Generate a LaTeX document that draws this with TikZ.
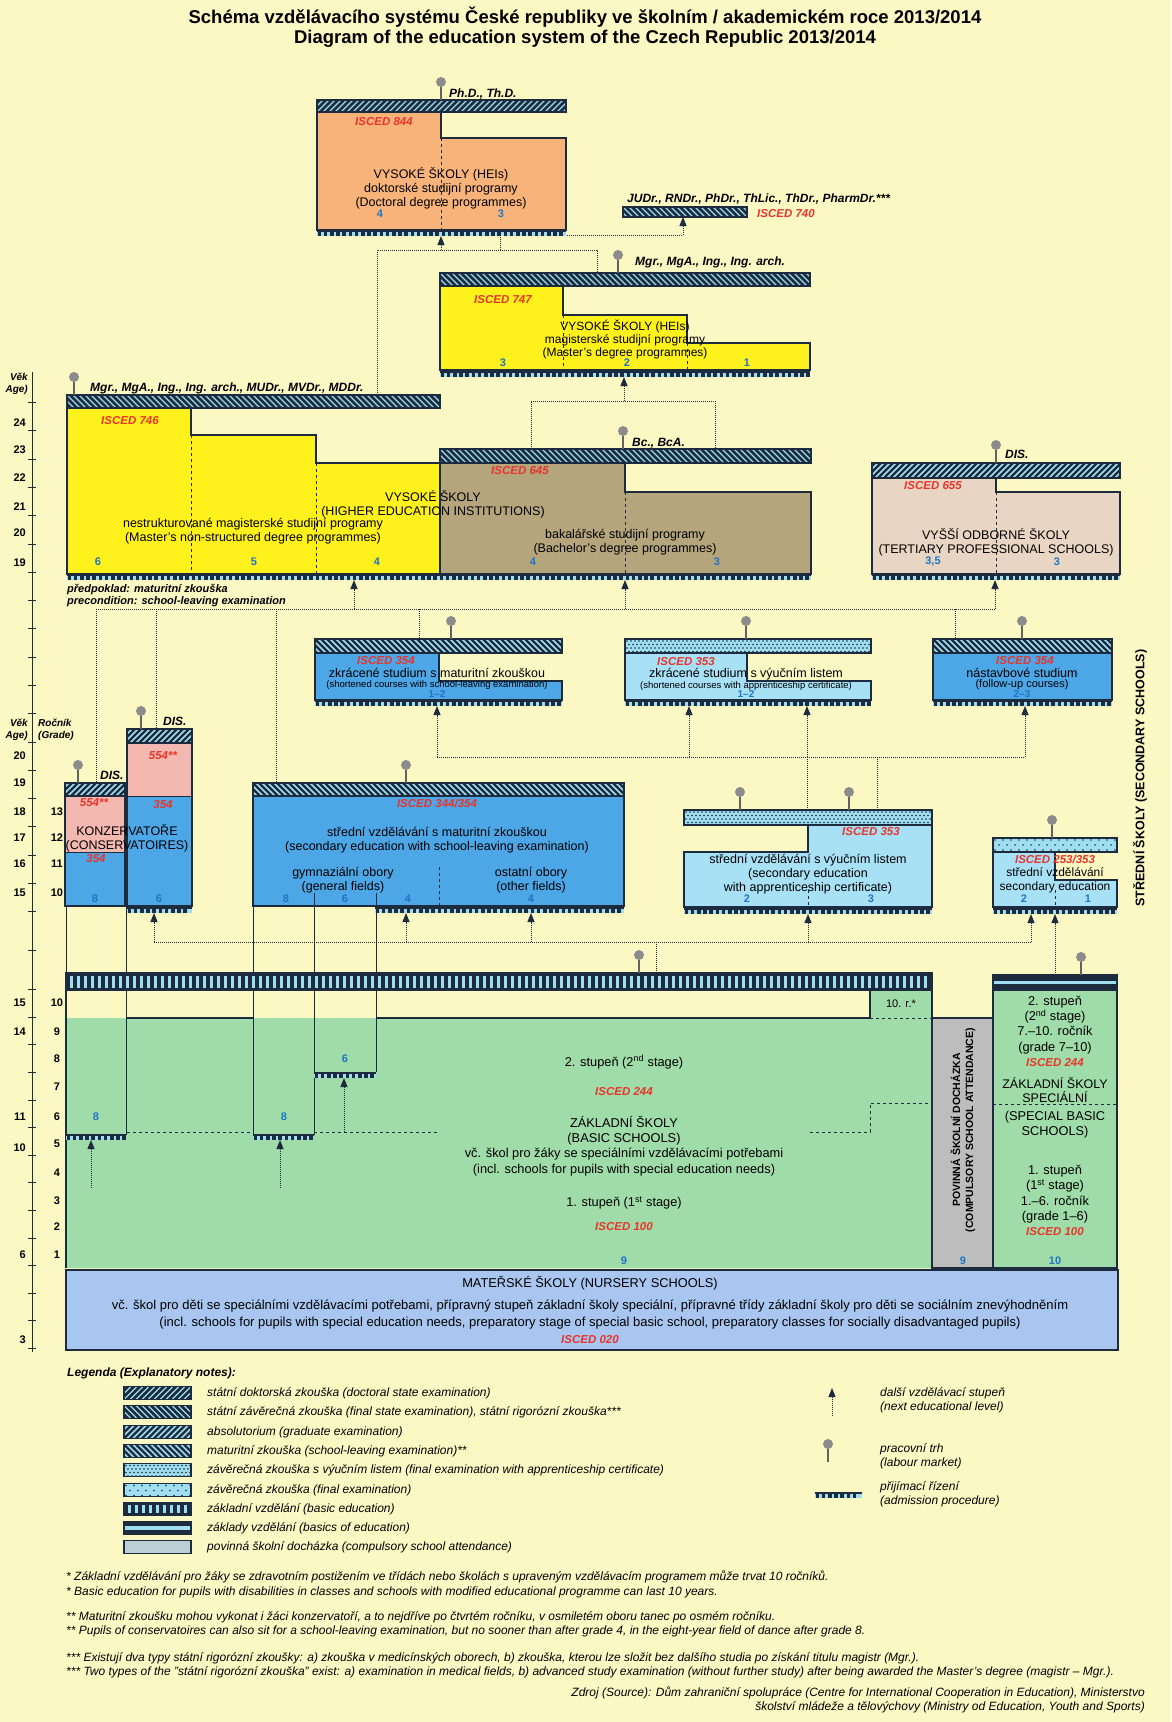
\documentclass[tikz,border=0pt]{standalone}
\usepackage{fontspec}
\setmainfont{Liberation Sans}
\usepackage{tikz}
\usetikzlibrary{arrows.meta,calc}
\definecolor{PaperYellow}{HTML}{FCF8C4}
\definecolor{BarNavy}{HTML}{1C2B3E}
\definecolor{HatchBlue}{HTML}{9FDDF0}
\definecolor{DoctorOrange}{HTML}{F8B37A}
\definecolor{MasterYellow}{HTML}{FFF21C}
\definecolor{BachelorKhaki}{HTML}{B4A57D}
\definecolor{TertiaryBeige}{HTML}{E9D5C3}
\definecolor{MaturaBlue}{HTML}{4DA6E6}
\definecolor{TradeBlue}{HTML}{A8E1F6}
\definecolor{ConservPink}{HTML}{F3B8B0}
\definecolor{BasicGreen}{HTML}{A0DCA9}
\definecolor{AttendGrey}{HTML}{BDBDBD}
\definecolor{LegendGrey}{HTML}{BCCFD7}
\definecolor{NurseryBlue}{HTML}{A8C6F0}
\definecolor{IscedRed}{HTML}{E8342B}
\definecolor{YearBlue}{HTML}{1F74C4}
\definecolor{PinGrey}{HTML}{8C8C8C}

\newcommand\fwdbar[7]{%
    \begin{scope}
        \clip (#4,#5) rectangle (#6,#7);
        \fill[#1] (#4,#5) rectangle (#6,#7);
        \pgfmathtruncatemacro\nn{(#6-#4)/6+1}
        \foreach \k in {-3,...,\nn}
            \draw[#2,line width=#3] ({#4+\k*6},#7) -- ++({#7-#5},{#5-#7});
    \end{scope}
    \draw[barframe] (#4,#5) rectangle (#6,#7);}
\newcommand\bckbar[7]{%
    \begin{scope}
        \clip (#4,#5) rectangle (#6,#7);
        \fill[#1] (#4,#5) rectangle (#6,#7);
        \pgfmathtruncatemacro\nn{(#6-#4)/6+1}
        \foreach \k in {-3,...,\nn}
            \draw[#2,line width=#3] ({#4+\k*6},#5) -- ++({#7-#5},{#7-#5});
    \end{scope}
    \draw[barframe] (#4,#5) rectangle (#6,#7);}
\newcommand\dotbar[8]{%
    \begin{scope}
        \clip (#5,#6) rectangle (#7,#8);
        \fill[#1] (#5,#6) rectangle (#7,#8);
        \pgfmathtruncatemacro\nx{(#7-#5)/#3}
        \pgfmathtruncatemacro\ny{(#8-#6)/#4}
        \foreach \i in {0,...,\nx}
            \foreach \j in {0,...,\ny}
                \fill[#2] ({#5+2+\i*#3+mod(\j,2)*#3/2},{#6+2+\j*#4}) circle (0.8);
    \end{scope}
    \draw[barframe] (#5,#6) rectangle (#7,#8);}
\newcommand\docbar[4]{\fwdbar{BarNavy}{HatchBlue}{1.2pt}{#1}{#2}{#3}{#4}}
\newcommand\statebar[4]{\bckbar{BarNavy}{HatchBlue}{1.2pt}{#1}{#2}{#3}{#4}}
\newcommand\absbar[4]{\fwdbar{HatchBlue}{BarNavy}{2.2pt}{#1}{#2}{#3}{#4}}
\newcommand\matbar[4]{\bckbar{HatchBlue}{BarNavy}{2.2pt}{#1}{#2}{#3}{#4}}
\newcommand\tradebar[4]{\dotbar{HatchBlue}{BarNavy}{4}{3.5}{#1}{#2}{#3}{#4}}
\newcommand\finalbar[4]{\dotbar{HatchBlue}{BarNavy}{8}{5}{#1}{#2}{#3}{#4}}
\newcommand\basicbar[4]{%
    \fill[BarNavy] (#1,#2) rectangle (#3,#4);
    \pgfmathtruncatemacro\nt{(#3-#1-6)/7}
    \foreach \k in {0,...,\nt}
        \fill[HatchBlue] ({#1+4+\k*7},{#2+2.5}) rectangle ++(2.6,{#4-#2-5});
    \draw[barframe] (#1,#2) rectangle (#3,#4);}
\newcommand\basicsbar[4]{%
    \fill[BarNavy] (#1,#2) rectangle (#3,#4);
    \fill[HatchBlue] (#1,{#2+0.38*(#4-#2)}) rectangle (#3,{#2+0.62*(#4-#2)});
    \draw[barframe] (#1,#2) rectangle (#3,#4);}
\newcommand\attendbar[4]{\filldraw[barframe,fill=LegendGrey] (#1,#2) rectangle (#3,#4);}
\newcommand\admit[3]{%
    \fill[HatchBlue] (#1,#3) rectangle (#2,{#3+6});
    \pgfmathtruncatemacro\nt{(#2-#1-4)/6.2}
    \foreach \k in {0,...,\nt}
        \fill[BarNavy] ({#1+0.5+\k*6.2},#3) rectangle ++(3.6,6);
    \fill[BarNavy] (#1,#3) rectangle (#2,{#3+1.8});}

\begin{document}
\begin{tikzpicture}[x=1pt,y=-1pt,
    box/.style={draw=BarNavy,line width=2pt},
    barframe/.style={draw=BarNavy,line width=1.4pt},
    divider/.style={draw=BarNavy,dashed,line width=0.7pt},
    track/.style={draw=BarNavy,line width=1pt},
    link/.style={draw=BarNavy,densely dotted,line width=1pt},
    nextlvl/.style={link,-{Triangle[length=9pt,width=7pt]}},
    pinhead/.style={circle,fill=PinGrey,inner sep=0pt,minimum size=10pt},
    pinstem/.style={draw=PinGrey!70!black,line width=1.3pt},
    txt/.style={inner sep=0pt,align=center,font=\fontsize{12.5}{14}\selectfont},
    smalltxt/.style={inner sep=0pt,align=center,font=\fontsize{9.5}{11}\selectfont},
    isced/.style={inner sep=0pt,text=IscedRed,font=\fontsize{11.5}{13}\selectfont\bfseries\itshape},
    yrs/.style={inner sep=0pt,text=YearBlue,font=\fontsize{11}{13}\selectfont\bfseries},
    degree/.style={inner sep=0pt,anchor=west,font=\fontsize{12}{14}\selectfont\bfseries\itshape},
    agetxt/.style={inner sep=0pt,font=\fontsize{11}{13}\selectfont\bfseries},
    basictxt/.style={inner sep=0pt,align=center,font=\fontsize{12.8}{15.3}\selectfont},
    legendtxt/.style={inner sep=0pt,anchor=west,font=\fontsize{12}{14}\selectfont\itshape},
    notetxt/.style={inner sep=0pt,anchor=west,font=\fontsize{12}{14}\selectfont\itshape},
    headline/.style={inner sep=0pt,font=\fontsize{18.5}{22}\selectfont\bfseries}]
    \useasboundingbox (0,0) rectangle (1171,1722);
    \fill[PaperYellow] (0,0) rectangle (1171,1722);

    \node[headline] (title) at (585,17) {Schéma vzdělávacího systému České republiky ve školním / akademickém roce 2013/2014};
    \node[headline] (title-en) at (585,39) {Diagram of the education system of the Czech Republic 2013/2014};

    \draw[track] (32,372) -- (32,1352);
    \foreach \y in {402,430,459,487,515,544,572,600,628,657,685,713,742,770,798,826,855,883,911,950,989,1017,1044,1072,1100,1127,1155,1182,1210,1238,1265,1293,1320,1348}
        \draw[track] (28,\y) -- (36,\y);
    \foreach \a/\y in {24/423,23/450,22/478,21/507,20/533,19/563,20/756,19/783,18/812,17/838,16/864,15/893,15/1003,14/1032,11/1117,10/1148,6/1255,3/1340}
        \node[agetxt,anchor=east] (age-\y) at (26,\y) {\a};
    \foreach \g/\y in {13/812,12/838,11/864,10/893,10/1003,9/1032,8/1059,7/1087,6/1117,5/1144,4/1173,3/1201,2/1227,1/1255}
        \node[agetxt] (grade-\y) at (57,\y) {\g};
    \foreach \n/\y in {up/377,low/723}
        \node[agetxt,font=\fontsize{10}{12}\selectfont\bfseries\itshape,anchor=east] (vek-\n) at (28,\y) {Věk};
    \foreach \n/\y in {up/390,low/736}
        \node[agetxt,font=\fontsize{10}{12}\selectfont\bfseries\itshape,anchor=east] (agehead-\n) at (28,\y) {Age)};
    \node[agetxt,font=\fontsize{10}{12}\selectfont\bfseries\itshape,anchor=west] (rocnik) at (38,723) {Ročník};
    \node[agetxt,font=\fontsize{10}{12}\selectfont\bfseries\itshape,anchor=west] (gradehead) at (38,736) {(Grade)};

    \coordinate (d746) at (377,395);
    \coordinate (d-turn) at (377,250);
    \coordinate (d-end) at (597,250);
    \coordinate (d747) at (597,273);
    \coordinate (ju-a) at (500,250);
    \coordinate (ju-b) at (500,235);
    \coordinate (ju-c) at (683,235);
    \draw[link] (d746) -- (d-turn) -- (d-end) -- (d747);
    \draw[link] (ju-a) -- (ju-b) -- (ju-c);
    \coordinate (bc-a) at (531,449);
    \coordinate (bc-b) at (531,401);
    \coordinate (bc-c) at (715,401);
    \coordinate (bc-d) at (715,449);
    \draw[link] (bc-a) -- (bc-b) -- (bc-c) -- (bc-d);
    \coordinate (pre-w) at (96,609);
    \coordinate (pre-e) at (995,609);
    \draw[link] (pre-w) -- (pre-e);
    \foreach \n/\x/\y in {ka/96/783,kb/156/729,sec/276/783,sm/419/639,fu/955/639}{
        \coordinate (pre-\n) at (\x,609);
        \coordinate (in-\n) at (\x,\y);
        \draw[link] (pre-\n) -- (in-\n);
    }
    \coordinate (mid-w) at (437,757);
    \coordinate (mid-e) at (1025,757);
    \draw[link] (mid-w) -- (mid-e);
    \foreach \n/\x in {va/807,vb/877}{
        \coordinate (mid-\n) at (\x,757);
        \coordinate (top-\n) at (\x,810);
        \draw[link] (mid-\n) -- (top-\n);
    }
    \coordinate (low-w) at (154,942);
    \coordinate (low-e) at (1031,942);
    \coordinate (low-zs) at (656,942);
    \coordinate (top-zs) at (656,973);
    \draw[link] (low-w) -- (low-e);
    \draw[link] (low-zs) -- (top-zs);

    \foreach \x/\a/\b in {66/906/990,126/906/1135,253/906/1135,314/893/1135,376/893/1072}
        \draw[track] (\x,\a) -- (\x,\b);

    \filldraw[box,fill=DoctorOrange] (317,112) -- (441,112) -- (441,138) -- (566,138) -- (566,230) -- (317,230) -- cycle;
    \draw[divider] (441,138) -- (441,230);
    \docbar{317}{100}{566}{112}
    \admit{317}{566}{230}
    \statebar{623}{207}{747}{217}

    \filldraw[box,fill=MasterYellow] (440,286) -- (563,286) -- (563,315) -- (687,315) -- (687,343) -- (810,343) -- (810,370) -- (440,370) -- cycle;
    \draw[divider] (563,315) -- (563,370);
    \draw[divider] (687,343) -- (687,370);
    \statebar{440}{273}{810}{286}
    \admit{440}{810}{371}

    \filldraw[box,fill=MasterYellow] (67,408) -- (191,408) -- (191,435) -- (316,435) -- (316,463) -- (440,463) -- (440,574) -- (67,574) -- cycle;
    \draw[divider] (191,435) -- (191,574);
    \draw[divider] (316,463) -- (316,574);
    \statebar{67}{395}{440}{408}
    \filldraw[box,fill=BachelorKhaki] (440,463) -- (625,463) -- (625,492) -- (811,492) -- (811,574) -- (440,574) -- cycle;
    \draw[divider] (625,492) -- (625,574);
    \statebar{440}{449}{811}{463}
    \admit{67}{811}{574}

    \filldraw[box,fill=TertiaryBeige] (872,478) -- (996,478) -- (996,492) -- (1120,492) -- (1120,574) -- (872,574) -- cycle;
    \draw[divider] (996,492) -- (996,574);
    \absbar{872}{463}{1120}{478}
    \admit{872}{1120}{574}

    \filldraw[box,fill=MaturaBlue] (315,653) -- (439,653) -- (439,681) -- (562,681) -- (562,700) -- (315,700) -- cycle;
    \matbar{315}{639}{562}{653}
    \admit{315}{562}{700}
    \filldraw[box,fill=TradeBlue] (625,653) -- (747,653) -- (747,681) -- (871,681) -- (871,700) -- (625,700) -- cycle;
    \tradebar{625}{639}{871}{653}
    \admit{625}{871}{700}
    \filldraw[box,fill=MaturaBlue] (933,653) rectangle (1112,700);
    \matbar{933}{639}{1112}{653}
    \admit{933}{1112}{700}

    \fill[ConservPink] (65,796) rectangle (125,852);
    \fill[MaturaBlue] (65,852) rectangle (125,906);
    \draw[box] (65,796) rectangle (125,906);
    \draw[track] (65,852) -- (125,852);
    \absbar{65}{783}{125}{796}
    \fill[ConservPink] (127,743) rectangle (192,796);
    \fill[MaturaBlue] (127,796) rectangle (192,906);
    \draw[box] (127,743) rectangle (192,906);
    \draw[track] (127,796) -- (192,796);
    \absbar{127}{729}{192}{743}
    \admit{127}{192}{907}

    \filldraw[box,fill=MaturaBlue] (253,796) rectangle (624,906);
    \draw[divider] (439,867) -- (439,906);
    \draw[track] (314,893) -- (314,906);
    \draw[track] (376,893) -- (376,906);
    \matbar{253}{783}{624}{796}
    \admit{375}{624}{907}

    \filldraw[box,fill=TradeBlue] (684,852) -- (808,852) -- (808,825) -- (932,825) -- (932,907) -- (684,907) -- cycle;
    \draw[divider] (808,890) -- (808,907);
    \tradebar{684}{810}{932}{825}
    \admit{684}{932}{908}
    \filldraw[box,fill=TradeBlue] (993,852) -- (1055,852) -- (1055,880) -- (1117,880) -- (1117,907) -- (993,907) -- cycle;
    \draw[divider] (1055,890) -- (1055,907);
    \finalbar{993}{838}{1117}{852}
    \admit{993}{1117}{908}

    \fill[BasicGreen] (66,1018) -- (870,1018) -- (870,990) -- (932,990) -- (932,1268) -- (66,1268) -- cycle;
    \draw[box] (127,1018) -- (253,1018);
    \draw[box] (376,1018) -- (870,1018) -- (870,990);
    \draw[box] (66,990) -- (66,1268);
    \draw[track] (126,1018) -- (126,1135);
    \draw[track] (253,1018) -- (253,1135);
    \draw[track] (314,1018) -- (314,1135);
    \draw[track] (376,1018) -- (376,1072);
    \draw[divider] (870,1018) -- (932,1018);
    \draw[divider] (127,1132) -- (253,1132);
    \draw[divider] (314,1132) -- (437,1132);
    \draw[divider] (810,1132) -- (870,1132) -- (870,1103) -- (932,1103);
    \filldraw[box,fill=AttendGrey] (932,1018) rectangle (993,1268);
    \draw[box] (932,990) -- (932,1018);
    \filldraw[box,fill=BasicGreen] (993,990) rectangle (1117,1268);
    \draw[divider] (993,1104) -- (1117,1104);
    \basicbar{66}{973}{932}{990}
    \basicsbar{993}{975}{1117}{990}
    \admit{66}{126}{1134}
    \admit{253}{314}{1134}
    \admit{314}{376}{1072}

    \filldraw[box,fill=NurseryBlue] (66,1270) rectangle (1118,1350);

    \foreach \n/\x/\y in {phd/441/100,mgr/618/273,mgrl/74/395,bc/623/449,dis/996/463,sm/451/639,sa/746/639,fu/1022/639,kb/141/729,ka/78/783,sec/406/783,va/740/810,vb/849/810,sp/1052/838,zs/639/973,zss/1081/975}{
        \coordinate (foot-\n) at (\x,\y);
        \node[pinhead] (pin-\n) at (\x,\y-18) {};
        \draw[pinstem] (pin-\n) -- (foot-\n);
    }
    \foreach \n/\x/\a/\b in {d/441/236/250,ju/683/217/235,m/624/377/401,n/354/580/609,b/625/580/609,v/995/580/609,sm/437/706/757,sa/689/706/757,sb/807/706/757,fu/1025/706/757,k/154/913/942,g/406/913/942,o/531/913/942,vo/808/914/942,ss/1031/914/942,sz/1055/914/975,k8/91/1140/1188,g8/280/1140/1188,g6/344/1078/1132}{
        \coordinate (tip-\n) at (\x,\a);
        \coordinate (tail-\n) at (\x,\b);
        \draw[nextlvl] (tail-\n) -- (tip-\n);
    }

    \node[degree] (phd) at (449,94) {Ph.D., Th.D.};
    \node[isced] (i844) at (384,122) {ISCED 844};
    \node[txt] (t844) at (441,188) {VYSOKÉ ŠKOLY (HEIs)\\doktorské studijní programy\\(Doctoral degree programmes)};
    \node[yrs] (y844a) at (380,214) {4};
    \node[yrs] (y844b) at (501,214) {3};
    \node[degree] (judr) at (627,199) {JUDr., RNDr., PhDr., ThLic., ThDr., PharmDr.***};
    \node[isced,anchor=west] (i740) at (757,214) {ISCED 740};

    \node[degree] (mgr) at (635,262) {Mgr., MgA., Ing., Ing. arch.};
    \node[isced] (i747) at (503,300) {ISCED 747};
    \node[txt,font=\fontsize{12}{13}\selectfont] (t747) at (625,339) {VYSOKÉ ŠKOLY (HEIs)\\magisterské studijní programy\\(Master’s degree programmes)};
    \foreach \v/\x in {3/503,2/627,1/747}
        \node[yrs] (y747-\x) at (\x,363) {\v};

    \node[degree] (mgrl) at (90,388) {Mgr., MgA., Ing., Ing. arch., MUDr., MVDr., MDDr.};
    \node[isced] (i746) at (130,421) {ISCED 746};
    \node[txt] (heis) at (433,504) {VYSOKÉ ŠKOLY\\(HIGHER EDUCATION INSTITUTIONS)};
    \node[txt] (t746) at (253,531) {nestrukturované magisterské studijní programy\\(Master’s non-structured degree programmes)};
    \foreach \v/\x in {6/98,5/254,4/377}
        \node[yrs] (y746-\x) at (\x,562) {\v};
    \node[degree] (bc) at (632,443) {Bc., BcA.};
    \node[isced] (i645) at (520,471) {ISCED 645};
    \node[txt] (t645) at (625,542) {bakalářské studijní programy\\(Bachelor’s degree programmes)};
    \node[yrs] (y645a) at (533,562) {4};
    \node[yrs] (y645b) at (717,562) {3};
    \node[degree] (dis) at (1005,454) {DIS.};
    \node[isced] (i655) at (933,486) {ISCED 655};
    \node[txt] (t655) at (996,542) {VYŠŠÍ ODBORNÉ ŠKOLY\\(TERTIARY PROFESSIONAL SCHOOLS)};
    \node[yrs] (y655a) at (933,562) {3,5};
    \node[yrs] (y655b) at (1057,562) {3};
    \node[degree,font=\fontsize{11}{13}\selectfont\bfseries\itshape] (pre-cz) at (67,590) {předpoklad: maturitní zkouška};
    \node[degree,font=\fontsize{11}{13}\selectfont\bfseries\itshape] (pre-en) at (67,602) {precondition: school-leaving examination};

    \node[isced] (i354a) at (386,661) {ISCED 354};
    \node[txt] (tsm) at (437,673) {zkrácené studium s maturitní zkouškou};
    \node[smalltxt] (tsm-en) at (437,685) {(shortened courses with school-leaving examination)};
    \node[yrs,font=\fontsize{10}{11}\selectfont\bfseries] (ysm) at (437,694) {1–2};
    \node[isced] (i353a) at (686,662) {ISCED 353};
    \node[txt] (tsa) at (746,674) {zkrácené studium s výučním listem};
    \node[smalltxt] (tsa-en) at (746,686) {(shortened courses with apprenticeship certificate)};
    \node[yrs,font=\fontsize{10}{11}\selectfont\bfseries] (ysa) at (746,694) {1–2};
    \node[isced] (i354b) at (1025,661) {ISCED 354};
    \node[txt] (tfu) at (1022,673) {nástavbové studium};
    \node[txt,font=\fontsize{11}{13}\selectfont] (tfu-en) at (1022,685) {(follow-up courses)};
    \node[yrs,font=\fontsize{10}{11}\selectfont\bfseries] (yfu) at (1022,694) {2–3};

    \node[degree] (dis-kb) at (163,721) {DIS.};
    \node[degree] (dis-ka) at (100,775) {DIS.};
    \node[isced] (i554b) at (163,756) {554**};
    \node[isced] (i354k) at (163,805) {354};
    \node[isced] (i554a) at (94,803) {554**};
    \node[isced] (i354c) at (96,859) {354};
    \node[txt] (konz) at (127,838) {KONZERVATOŘE\\(CONSERVATOIRES)};
    \node[yrs] (yka) at (95,899) {8};
    \node[yrs] (ykb) at (159,899) {6};

    \node[isced] (i344) at (437,803) {ISCED 344/354};
    \node[txt] (tsec) at (437,840) {střední vzdělávání s maturitní zkouškou\\(secondary education with school-leaving examination)};
    \node[txt] (gym) at (343,880) {gymnaziální obory\\(general fields)};
    \node[txt] (oth) at (531,880) {ostatní obory\\(other fields)};
    \foreach \v/\x in {8/286,6/345,4/408,4/531}
        \node[yrs] (ysec-\x) at (\x,899) {\v};

    \node[isced] (i353b) at (871,832) {ISCED 353};
    \node[txt] (tvoc) at (808,874) {střední vzdělávání s výučním listem\\(secondary education\\with apprenticeship certificate)};
    \node[yrs] (yvoc-a) at (747,899) {2};
    \node[yrs] (yvoc-b) at (871,899) {3};
    \node[isced] (i253) at (1055,859) {ISCED 253/353};
    \node[txt,font=\fontsize{12}{14}\selectfont] (t253) at (1055,880) {střední vzdělávání\\secondary education};
    \node[yrs] (y253a) at (1024,899) {2};
    \node[yrs] (y253b) at (1088,899) {1};
    \node[rotate=90,inner sep=0pt,font=\fontsize{12.5}{14}\selectfont\bfseries] (secschools) at (1140,778) {STŘEDNÍ ŠKOLY (SECONDARY SCHOOLS)};

    \node[basictxt,font=\fontsize{11}{13}\selectfont] (tenth) at (901,1004) {10. r.*};
    \node[basictxt] (stage2) at (624,1062) {2. stupeň (2\textsuperscript{nd} stage)};
    \node[isced] (i244) at (624,1092) {ISCED 244};
    \node[basictxt] (zs) at (624,1146) {ZÁKLADNÍ ŠKOLY\\(BASIC SCHOOLS)\\vč. škol pro žáky se speciálními vzdělávacími potřebami\\(incl. schools for pupils with special education needs)};
    \node[basictxt] (stage1) at (624,1203) {1. stupeň (1\textsuperscript{st} stage)};
    \node[isced] (i100) at (624,1227) {ISCED 100};
    \node[yrs] (y9) at (624,1261) {9};
    \node[yrs] (yk8) at (96,1117) {8};
    \node[yrs] (yg8) at (284,1117) {8};
    \node[yrs] (yg6) at (345,1059) {6};
    \node[rotate=90,align=center,inner sep=0pt,font=\fontsize{10.5}{13}\selectfont\bfseries] (attend) at (963,1130) {POVINNÁ ŠKOLNÍ DOCHÁZKA\\(COMPULSORY SCHOOL ATTENDANCE)};
    \node[yrs] (yatt) at (963,1261) {9};
    \node[basictxt] (spec2) at (1055,1025) {2. stupeň\\(2\textsuperscript{nd} stage)\\7.–10. ročník\\(grade 7–10)};
    \node[isced] (i244s) at (1055,1063) {ISCED 244};
    \node[basictxt,font=\fontsize{12.5}{14}\selectfont] (spec) at (1055,1090) {ZÁKLADNÍ ŠKOLY\\SPECIÁLNÍ};
    \node[basictxt] (spec-en) at (1055,1125) {(SPECIAL BASIC\\SCHOOLS)};
    \node[basictxt,font=\fontsize{12.8}{15.5}\selectfont] (spec1) at (1055,1194) {1. stupeň\\(1\textsuperscript{st} stage)\\1.–6. ročník\\(grade 1–6)};
    \node[isced] (i100s) at (1055,1232) {ISCED 100};
    \node[yrs] (y10) at (1055,1261) {10};

    \node[basictxt] (ms) at (590,1283) {MATEŘSKÉ ŠKOLY (NURSERY SCHOOLS)};
    \node[basictxt,font=\fontsize{13}{15}\selectfont] (ms-cz) at (590,1306) {vč. škol pro děti se speciálními vzdělávacími potřebami, přípravný stupeň základní školy speciální, přípravné třídy základní školy pro děti se sociálním znevýhodněním};
    \node[basictxt,font=\fontsize{13}{15}\selectfont] (ms-en) at (590,1323) {(incl. schools for pupils with special education needs, preparatory stage of special basic school, preparatory classes for socially disadvantaged pupils)};
    \node[isced] (i020) at (590,1340) {ISCED 020};

    \node[legendtxt,font=\fontsize{12}{14}\selectfont\bfseries\itshape] (legend) at (67,1373) {Legenda (Explanatory notes):};
    \foreach \kind/\y/\txt in {doc/1393/{státní doktorská zkouška (doctoral state examination)},
        state/1412/{státní závěrečná zkouška (final state examination), státní rigorózní zkouška***},
        abs/1432/{absolutorium (graduate examination)},
        mat/1451/{maturitní zkouška (school-leaving examination)**},
        trade/1470/{závěrečná zkouška s výučním listem (final examination with apprenticeship certificate)},
        final/1490/{závěrečná zkouška (final examination)},
        basic/1509/{základní vzdělání (basic education)},
        basics/1528/{základy vzdělání (basics of education)},
        attend/1547/{povinná školní docházka (compulsory school attendance)}}{
        \pgfmathsetmacro\ya{\y-6.5}
        \pgfmathsetmacro\yb{\y+6.5}
        \csname\kind bar\endcsname{124}{\ya}{191}{\yb}
        \node[legendtxt] (leg-\kind) at (207,\y) {\txt};
    }
    \coordinate (leg-tip) at (832,1388);
    \coordinate (leg-tail) at (832,1416);
    \draw[nextlvl] (leg-tail) -- (leg-tip);
    \node[legendtxt,align=left] (leg-next) at (880,1400) {další vzdělávací stupeň\\(next educational level)};
    \coordinate (leg-foot) at (828,1462);
    \node[pinhead] (leg-pin) at (828,1444) {};
    \draw[pinstem] (leg-pin) -- (leg-foot);
    \node[legendtxt,align=left] (leg-job) at (880,1456) {pracovní trh\\(labour market)};
    \admit{815}{862}{1492}
    \node[legendtxt,align=left] (leg-adm) at (880,1494) {přijímací řízení\\(admission procedure)};

    \node[notetxt] (note1) at (66,1577) {* Základní vzdělávání pro žáky se zdravotním postižením ve třídách nebo školách s upraveným vzdělávacím programem může trvat 10 ročníků.};
    \node[notetxt] (note1-en) at (66,1592) {* Basic education for pupils with disabilities in classes and schools with modified educational programme can last 10 years.};
    \node[notetxt] (note2) at (66,1617) {** Maturitní zkoušku mohou vykonat i žáci konzervatoří, a to nejdříve po čtvrtém ročníku, v osmiletém oboru tanec po osmém ročníku.};
    \node[notetxt] (note2-en) at (66,1631) {** Pupils of conservatoires can also sit for a school-leaving examination, but no sooner than after grade 4, in the eight-year field of dance after grade 8.};
    \node[notetxt] (note3) at (66,1658) {*** Existují dva typy státní rigorózní zkoušky: a) zkouška v medicínských oborech, b) zkouška, kterou lze složit bez dalšího studia po získání titulu magistr (Mgr.).};
    \node[notetxt] (note3-en) at (66,1672) {*** Two types of the "státní rigorózní zkouška" exist: a) examination in medical fields, b) advanced study examination (without further study) after being awarded the Master’s degree (magistr – Mgr.).};
    \node[notetxt,anchor=east] (source) at (1145,1693) {Zdroj (Source): Dům zahraniční spolupráce (Centre for International Cooperation in Education), Ministerstvo};
    \node[notetxt,anchor=east] (source-b) at (1145,1707) {školství mládeže a tělovýchovy (Ministry od Education, Youth and Sports)};
\end{tikzpicture}
\end{document}
